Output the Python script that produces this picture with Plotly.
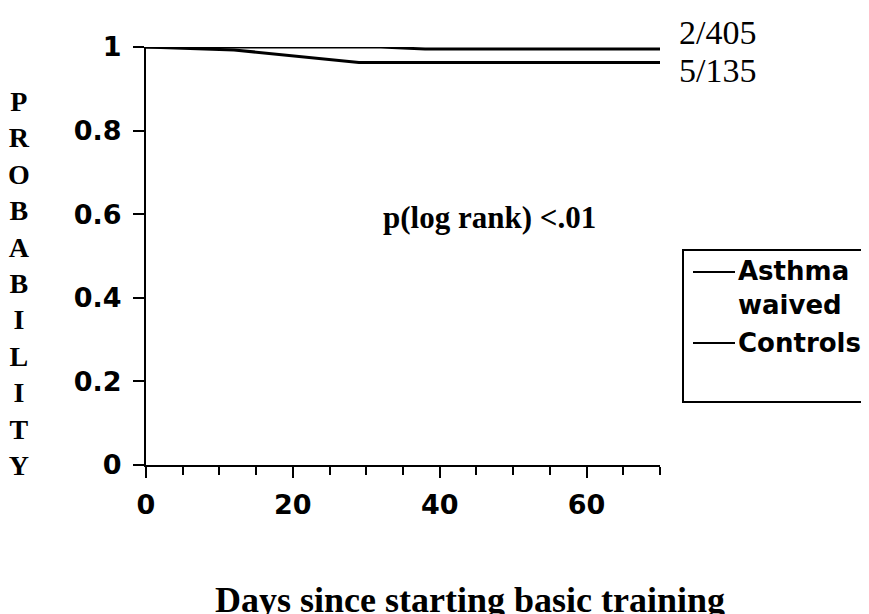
import plotly.graph_objects as go

# Data
days_asthma = [0, 12, 29, 70]
surv_asthma = [1.0, 0.993, 0.963, 0.963]
days_controls = [0, 32, 38, 70]
surv_controls = [1.0, 1.0, 0.995, 0.995]

x_tickvals = [0, 20, 40, 60]
x_ticktext = ["0", "20", "40", "60"]
y_tickvals = [0, 0.2, 0.4, 0.6, 0.8, 1]
y_ticktext = ["0", "0.2", "0.4", "0.6", "0.8", "1"]

legend_names = ["Asthma<br>waived", "Controls"]
end_labels = ["2/405", "5/135"]
y_title = "PROBABILITY"
x_title = "Days since starting basic training"
pval_text = "p(log rank) <.01"

# page body has an 8px margin: work in figure pixel coords = screen - 8
OFF = 8
W, H = 869 - OFF, 614 - OFF
L, R, T, B = 146 - OFF, 660 - OFF, 47 - OFF, 465 - OFF


def px(xs):
    return (xs - OFF - L) / (R - L)


def py(ys):
    return (B - (ys - OFF)) / (B - T)


SANS = "DejaVu Sans, Arial, sans-serif"
LSANS = "DejaVu Sans, Arial, sans-serif"
SERIF = "Liberation Serif, Times New Roman, serif"

fig = go.Figure()
fig.add_trace(go.Scatter(x=days_controls, y=surv_controls, mode="lines",
                         line=dict(color="black", width=3), cliponaxis=False,
                         name="Controls", showlegend=False))
fig.add_trace(go.Scatter(x=days_asthma, y=surv_asthma, mode="lines",
                         line=dict(color="black", width=3), cliponaxis=False,
                         name="Asthma waived", showlegend=False))

fig.update_layout(
    width=W, height=H,
    margin=dict(l=L, r=W - R, t=T, b=H - B, autoexpand=False),
    paper_bgcolor="white", plot_bgcolor="white",
    xaxis=dict(range=[0, 70], tickvals=x_tickvals, ticktext=x_ticktext,
               showgrid=False, zeroline=False, showline=True, linecolor="black",
               linewidth=2, ticks="outside", ticklen=11, tickwidth=2, tickcolor="black",
               minor=dict(dtick=5, tick0=0, ticks="outside", ticklen=8, tickwidth=2, tickcolor="black"),
               tickfont=dict(family=SANS, size=27, color="black", weight="bold"),
               ticklabelstandoff=4),
    yaxis=dict(range=[0, 1], tickvals=y_tickvals, ticktext=y_ticktext,
               showgrid=False, zeroline=False, showline=True, linecolor="black",
               linewidth=2, ticks="outside", ticklen=11, tickwidth=2, tickcolor="black",
               tickfont=dict(family=SANS, size=27, color="black", weight="bold"),
               ticklabelstandoff=6),
)

annotations = []
annotations.append(dict(text="<br>".join(list(y_title)), xref="paper", yref="paper",
                        x=px(19), y=py(283), xanchor="center", yanchor="middle",
                        showarrow=False, align="center",
                        font=dict(family=SERIF, size=28, color="black", weight="bold")))
annotations.append(dict(text=x_title, xref="paper", yref="paper",
                        x=px(470), y=py(600), xanchor="center", yanchor="middle",
                        showarrow=False,
                        font=dict(family=SERIF, size=36, color="black", weight="bold")))
annotations.append(dict(text=pval_text, xref="paper", yref="paper",
                        x=px(489), y=py(217), xanchor="center", yanchor="middle",
                        showarrow=False,
                        font=dict(family=SERIF, size=31, color="black", weight="bold")))
annotations.append(dict(text=end_labels[0], xref="x", yref="paper",
                        x=days_controls[-1], xshift=17, y=py(33), xanchor="left", yanchor="middle",
                        showarrow=False,
                        font=dict(family=SERIF, size=34, color="black")))
annotations.append(dict(text=end_labels[1], xref="x", yref="paper",
                        x=days_asthma[-1], xshift=17, y=py(70), xanchor="left", yanchor="middle",
                        showarrow=False,
                        font=dict(family=SERIF, size=34, color="black")))
# manual legend
annotations.append(dict(text=legend_names[0], xref="paper", yref="paper",
                        x=px(736), y=py(288), xanchor="left", yanchor="middle",
                        showarrow=False, align="left",
                        font=dict(family=LSANS, size=26, color="black", weight="bold")))
annotations.append(dict(text=legend_names[1], xref="paper", yref="paper",
                        x=px(736), y=py(343), xanchor="left", yanchor="middle",
                        showarrow=False, align="left",
                        font=dict(family=LSANS, size=26, color="black", weight="bold")))
fig.update_layout(annotations=annotations)

shapes = [
    dict(type="rect", xref="paper", yref="paper", x0=px(683), x1=px(900),
         y0=py(402), y1=py(250), line=dict(color="black", width=2), fillcolor="rgba(0,0,0,0)"),
    dict(type="line", xref="paper", yref="paper", x0=px(693), x1=px(735),
         y0=py(272), y1=py(272), line=dict(color="black", width=2)),
    dict(type="line", xref="paper", yref="paper", x0=px(693), x1=px(735),
         y0=py(343), y1=py(343), line=dict(color="black", width=2)),
]
fig.update_layout(shapes=shapes)

fig.write_html("out.html")
